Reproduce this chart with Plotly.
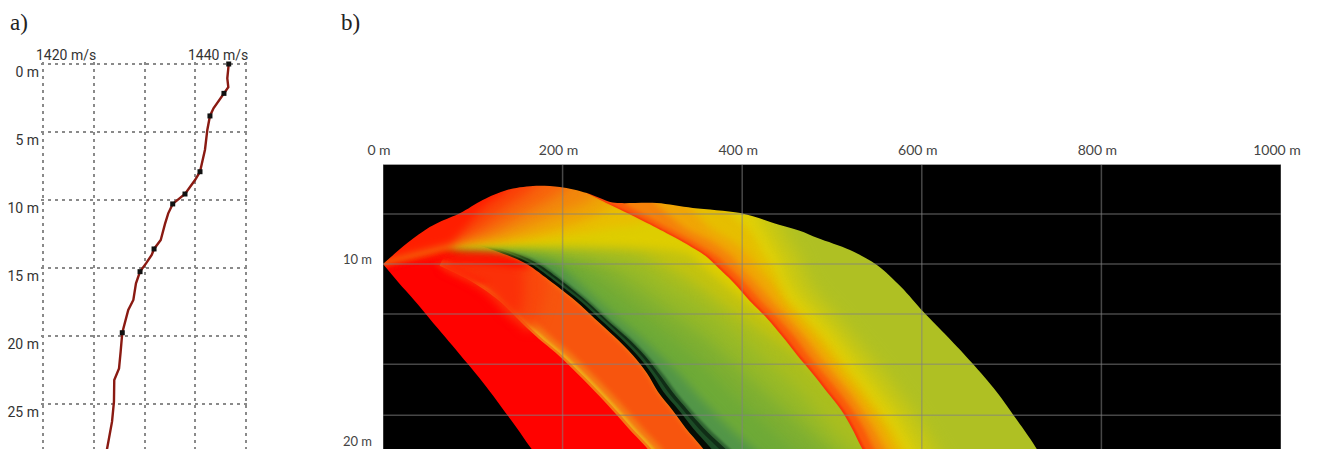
import json
import plotly.graph_objects as go

# ---------- panel a: sound speed profile ----------
speed_line = [1438.3,1438.16,1438.26,1437.83,1437.44,1436.8,1436.45,1436.19,1435.96,1435.7,1435.47,1434.98,1433.99,1432.78,1432.34,1432.02,1431.6,1430.94,1430.71,1430.15,1429.56,1429.16,1428.9,1428.4,1427.81,1427.65,1427.49,1427.02,1426.99,1426.8,1426.37,1426.2]
depth_line = [0,1.05,1.7,2.16,2.65,3.26,3.82,4.85,6.3,7.3,7.92,8.53,9.56,10.29,10.98,11.76,12.94,13.6,14.04,14.66,15.27,16.13,17.35,18.09,19.76,21.15,22.38,23.24,24.83,26.3,28.0,28.75]
speed_pts = [1438.3,1437.83,1436.45,1435.47,1433.99,1432.78,1430.94,1429.56,1427.81]
depth_pts = [0,2.16,3.82,7.92,9.56,10.29,13.6,15.27,19.76]
a_xticks = [1420,1425,1430,1435,1440]
a_yticks = [0,5,10,15,20,25]
a_ylabels = ["0 m","5 m","10 m","15 m","20 m","25 m"]

# ---------- panel b: ray fan, boundaries (metres, depth m) ----------
b_xticks = [0,200,400,600,800,1000]
b_xlabels = ["0 m","200 m","400 m","600 m","800 m","1000 m"]
b_yticks = [10,20]
b_ylabels = ["10 m","20 m"]
b_grid_depths = [7.25,10,12.75,15.5,18.3]

arch_x = [0,27,52,63,86,111,138,167,197,227,253,264,305,345,398,441,464,484,520,550,577,602,629,656,683,706,728,736]
arch_d = [10,8.85,7.97,7.69,7.2,6.48,5.93,5.71,5.77,6.1,6.59,6.65,6.65,6.92,7.2,7.84,8.17,8.57,9.23,10.05,11.26,12.64,14.01,15.44,17.0,18.57,20.16,20.99]

rows = [10,11,12,13,14,15,16,17,18,19,20,21]
edge_x = [0,17,35,52,69,86,103,119,134,149,163,178]

O_rows = [10.1]+rows[1:]
O_curves = [
    ([63,100,129,150,171,195,216,236,255,273,292,310], "rgb(245,120,20)", 0.7),
    ([70,104,133,154,175,199,220,240,259,277,296,314], "rgb(240,170,25)", 0.7),
    ([78,108,137,158,179,203,224,244,263,281,300,318], "rgb(245,125,20)", 1.2),
    ([88,116,145,166,187,211,232,252,271,289,308,326], "rgb(247,85,14)", 2.5),
]
apex = (75,8.85)
K0_head = ([108,138],[9.01,9.51])
K0 = [160,188,214,236,258,278,294,306,322,337,354,369]

T_patches = [
    ([68,120,165,180,138,108,75],[10.1,11.4,13.6,10.6,9.51,9.01,8.85],"rgb(249,72,12)",6),
    ([68,110,150,155,138,108,75],[10.1,11.2,13.0,10.3,9.51,9.01,8.85],"rgb(251,48,8)",6),
    ([14,75,108,138,165,110,52],[9.9,8.85,9.01,9.51,10.2,9.95,9.9],"rgb(255,15,0)",3),
    ([55,100,118,78],[10.0,11.0,11.0,10.0],"rgba(253,35,5,0.75)",2),
]

fan_curves = [
    ([108,138],[9.01,9.51],K0,"rgb(5,12,5)",0.4),
    ([119,144],[9.07,9.51],[165,193,219,241,263,283,299,312,329,345,363,379],"rgb(28,75,38)",0.4),
    ([121,148],[9.07,9.51],[169,197,223,245,267,287,303,317,334,351,371,390],"rgb(16,45,22)",0.4),
    ([125,153],[9.07,9.51],[173,201,226,248,271,291,307,322,339,357,378,398],"rgb(48,100,50)",0.5),
    ([128,158],[9.07,9.51],[177,204,229,251,274,294,311,326,343,362,383,403],"rgb(82,150,72)",1),
    ([136,164],[9.07,9.51],[193,217,239,262,286,308,329,347,366,386,409,431],"rgb(110,170,55)",5),
    ([153,186],[9.07,9.51],[214,242,269,295,320,344,366,386,409,431,453,476],"rgb(125,175,50)",7),
    ([164,208],[9.04,9.51],[242,275,303,331,359,381,403,425,448,470,492,514],"rgb(150,185,40)",8),
    ([175,242],[9.01,9.51],[286,314,347,375,398,420,442,464,481,498,518,542],"rgb(170,190,30)",8),
    ([186,286],[8.98,9.4],[314,347,375,403,431,459,481,503,526,548,570,592],"rgb(195,195,15)",6),
    ([197,286,342],[8.96,9.07,9.51],[353,378,403,431,459,487,509,531,553,576,598,620],"rgb(222,205,0)",4),
]

ray_curves = [
    ([175,253,297],[8.68,8.02,7.47],"rgb(232,190,0)",4),
    ([153,231,258],[8.57,7.47,6.65],"rgb(238,165,5)",5),
    ([130,192,236],[8.46,7.31,6.26],"rgb(242,135,12)",6),
    ([119,164,203],[8.24,7.03,5.82],"rgb(247,100,12)",6),
    ([106,136,169],[8.02,6.92,5.71],"rgb(250,65,8)",6),
    ([91,114,136],[8.02,6.76,5.93],"rgb(255,30,0)",4),
]

red_d = [6.1,6.48,7.2,8.02,8.79,9.55]+rows
lobe_curves = [
    ([227,242,272,305,334,359,369,390,408,428,445,461,478,494,510,522,532,543], red_d, "rgb(248,50,10)",0.7),
    ([230,245,275,308,337,362,372,393,411,431,448,464,481,497,513,525,535,546], red_d, "rgb(250,90,10)",1),
    ([269,317,346,373,381,402,420,440,458,473,490,507,522,535,545,556], [6.7,8.02,8.79,9.62]+rows, "rgb(245,130,10)",2),
    ([303,336,366,389,395,414,432,451,469,484,501,518,532,545,556,567], [6.65,8.02,8.79,9.62]+rows, "rgb(240,165,5)",3),
    ([342,364,389,409,414,431,445,462,480,496,511,528,543,557,567,578], [6.87,8.02,8.79,9.62]+rows, "rgb(230,190,0)",4),
    ([386,409,425,431,442,453,473,491,507,522,538,553,567,578,589], [7.14,8.24,9.62]+rows, "rgb(225,208,5)",4),
    ([419,441,452,466,486,504,519,535,550,566,579,590,602], [7.69,9.62]+rows[1:], "rgb(200,200,20)",7),
    ([446,463,474,489,508,524,541,558,573,589,602,614,625], [8.24,9.62]+rows[1:], "rgb(175,192,35)",8),
]

# ---------- figure ----------
W, H = 1317, 449
fig = go.Figure()
blur = []

def poly(xs, ds, color, sigma=0):
    fig.add_trace(go.Scatter(x=xs, y=ds, xaxis="x2", yaxis="y2", mode="lines", fill="toself",
                             fillcolor=color, line=dict(width=0, shape="spline", smoothing=0.9),
                             hoverinfo="skip", showlegend=False))
    blur.append(sigma)

FAR_X, TOP_D, LOW_D = 1150, 2.5, 23

# base colour of the whole area
poly([-100, FAR_X, FAR_X, -100], [TOP_D, TOP_D, LOW_D, LOW_D], "rgb(255,2,0)")

# orange band between the thin line and the black band
for xs, c, s in O_curves:
    poly(xs + K0[::-1] + K0_head[0][::-1] + [apex[0]],
         O_rows + rows[::-1] + K0_head[1][::-1] + [apex[1]], c, s)
for xs, ds, c, s in T_patches:
    poly(xs, ds, c, s)

# green to yellow fan, painted from the black band upward
for hx, hd, xs, c, s in fan_curves:
    poly([apex[0]] + hx + xs + [xs[-1], FAR_X, FAR_X, 197],
         [apex[1]] + hd + rows + [LOW_D, LOW_D, TOP_D, TOP_D], c, s)

# wedges above the apex
for rx, rd, c, s in ray_curves:
    poly([apex[0]] + rx + [rx[-1] + 40, -100, -100],
         [apex[1]] + rd + [TOP_D, TOP_D, 11.0], c, s)

# outer lobe beyond the red caustic
for xs, ds, c, s in lobe_curves:
    poly(xs + [xs[-1], FAR_X, FAR_X, xs[0] - 10], ds + [LOW_D, LOW_D, TOP_D, TOP_D], c, s)

# black outside the ray footprint
poly(arch_x + [FAR_X, FAR_X, -100, -100], arch_d + [LOW_D, TOP_D, TOP_D, 10], "black", 0.5)
poly(edge_x + [edge_x[-1], -100, -100], rows + [LOW_D, LOW_D, 10], "black", 0.5)

# panel a
fig.add_trace(go.Scatter(x=speed_line, y=depth_line, mode="lines", line=dict(color="#8a1a12", width=2.4),
                         showlegend=False, hoverinfo="skip"))
fig.add_trace(go.Scatter(x=speed_pts, y=depth_pts, mode="markers", cliponaxis=False,
                         marker=dict(color="#111111", size=5, symbol="square"),
                         showlegend=False, hoverinfo="skip"))

GRID_B = "rgba(130,130,130,0.55)"
shapes = []
for v in b_xticks:
    shapes.append(dict(type="line", xref="x2", yref="y2", x0=v, x1=v, y0=4.56, y1=20.16,
                       line=dict(color=GRID_B, width=1.5), layer="above"))
for v in b_grid_depths:
    shapes.append(dict(type="line", xref="x2", yref="y2", x0=0, x1=1000, y0=v, y1=v,
                       line=dict(color=GRID_B, width=1.5), layer="above"))

FA = "Liberation Sans Narrow, Roboto, sans-serif"
FB = "Lato, sans-serif"
annotations = [
    dict(text="a)", x=8/W, y=1-23/H, xref="paper", yref="paper", xanchor="left", yanchor="middle",
         showarrow=False, font=dict(family="Liberation Serif", size=23, color="#222")),
    dict(text="b)", x=339/W, y=1-23/H, xref="paper", yref="paper", xanchor="left", yanchor="middle",
         showarrow=False, font=dict(family="Liberation Serif", size=23, color="#222")),
    dict(text="1420 m/s", x=1420, y=1-55/H, xref="x", yref="paper", xanchor="center", yanchor="middle",
         xshift=23, showarrow=False, font=dict(family=FA, size=14, color="#333")),
    dict(text="1440 m/s", x=1440, y=1-55/H, xref="x", yref="paper", xanchor="center", yanchor="middle",
         xshift=-28, showarrow=False, font=dict(family=FA, size=14, color="#333")),
]

grid_a = dict(showgrid=True, gridcolor="#8a8a8a", griddash="3px,4px", gridwidth=1.5, zeroline=False, showline=False, automargin=False)

fig.update_layout(
    template="none",
    width=W, height=H, margin=dict(l=0, r=0, t=0, b=0, pad=0, autoexpand=False), paper_bgcolor="white", plot_bgcolor="white",
    showlegend=False, shapes=shapes, annotations=annotations,
    xaxis=dict(domain=[41/W, 248/W], range=[1419.8, 1440.2], tickvals=a_xticks, showticklabels=False, ticks="", **grid_a),
    yaxis=dict(domain=[0, 1-62/H], range=[28.31, -0.147], tickvals=a_yticks, ticktext=a_ylabels, ticks="",
               ticklabelshift=-8, ticklabelstandoff=1, tickfont=dict(family=FA, size=14, color="#333"), **grid_a),
    xaxis2=dict(domain=[383/W, 1281/W], range=[0, 1000], anchor="y2", side="top", tickvals=b_xticks, ticktext=b_xlabels,
                ticks="", showgrid=False, zeroline=False, showline=True, linecolor="#a0a0a0", linewidth=1, automargin=False,
                ticklabelshift=-4, ticklabelstandoff=3, tickfont=dict(family=FB, size=14, color="#444")),
    yaxis2=dict(domain=[0, 1-165/H], range=[20.16, 4.56], anchor="x2", tickvals=b_yticks, ticktext=b_ylabels,
                ticks="", showgrid=False, zeroline=False, showline=False, automargin=False, ticklabeloverflow="allow",
                ticklabelshift=5, ticklabelstandoff=10, tickfont=dict(family=FB, size=13, color="#444")),
)

script = """
document.body.style.margin='0';document.body.style.overflow='hidden';
var s=%s;
var t=document.querySelectorAll('.plotly-graph-div .scatterlayer .trace');
var n=0;
t.forEach(function(g){
  var p=g.querySelector('.js-fill');
  if(p && p.getAttribute('d') && n<s.length){ if(s[n]>0){g.style.filter='blur('+s[n]+'px)';} n++; }
});
""" % json.dumps(blur)

fig.write_html("out.html", config={"displayModeBar": False}, post_script=script)
